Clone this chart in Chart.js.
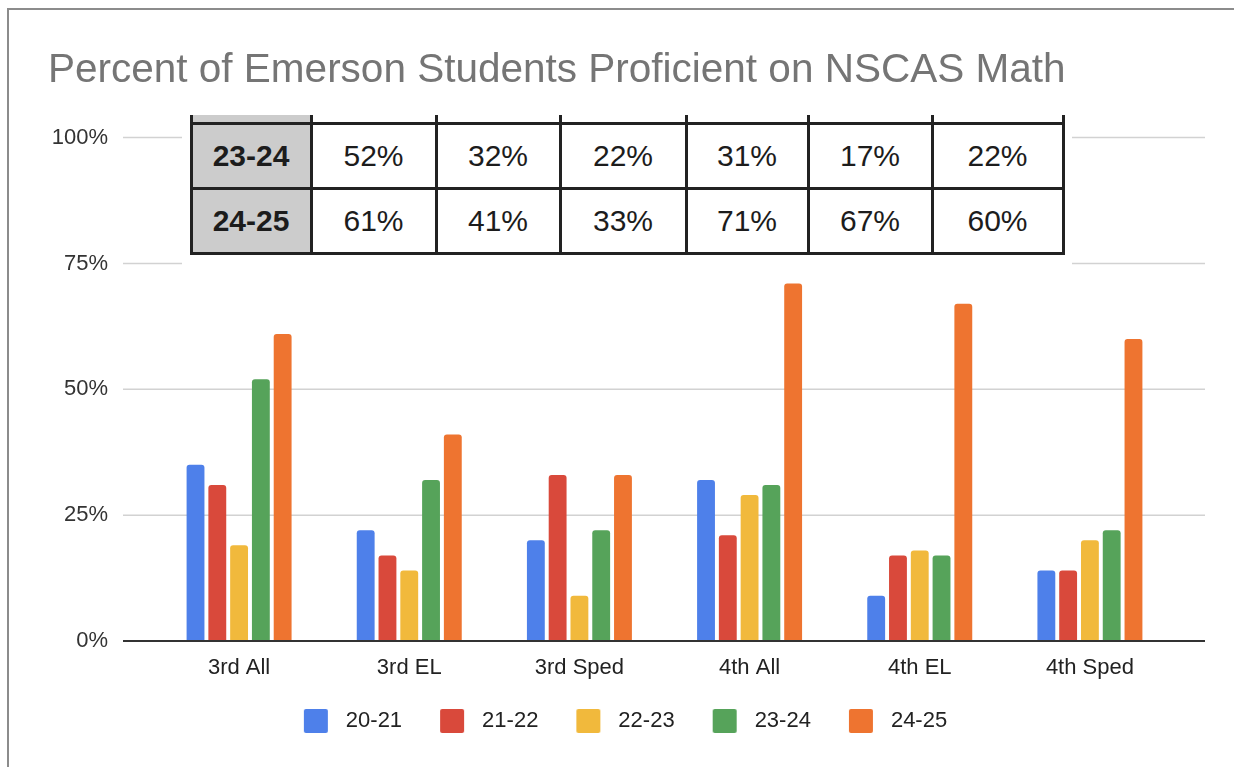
<!DOCTYPE html>
<html>
<head>
<meta charset="utf-8">
<script src="https://cdn.jsdelivr.net/npm/chart.js@4.4.1/dist/chart.umd.min.js"></script>
<style>
  html, body { margin: 0; padding: 0; background: #fff; overflow: hidden; }
  #wrap { position: relative; width: 1234px; height: 767px; }
  #chart { position: absolute; left: 0; top: 0; }
  #frame { position: absolute; left: 7px; top: 8px; width: 1300px; height: 800px;
           border-left: 2px solid #8c8c8c; border-top: 2px solid #8c8c8c; }
  #tbl { position: absolute; left: 182px; top: 110px; width: 890px; height: 156px; background: #fff; }
  .cell { position: absolute; display: flex; align-items: center; justify-content: center;
          font: 30px 'Liberation Sans', Arial, sans-serif; color: #1c1c1c; }
  .hd { background: #cccccc; font-weight: bold; }
  .ln { position: absolute; background: #222; }
</style>
</head>
<body>
<div id="wrap">
  <div id="frame"></div>
  <canvas id="chart" width="1234" height="767"></canvas>
  <div id="tbl"></div>
</div>
<script>
// data
const categories = ['3rd All', '3rd EL', '3rd Sped', '4th All', '4th EL', '4th Sped'];
const years = ['20-21', '21-22', '22-23', '23-24', '24-25'];
const y2021 = [35, 22, 20, 32, 9, 14];
const y2122 = [31, 17, 33, 21, 17, 14];
const y2223 = [19, 14, 9, 29, 18, 20];
const y2324 = [52, 32, 22, 31, 17, 22];
const y2425 = [61, 41, 33, 71, 67, 60];
const series = [y2021, y2122, y2223, y2324, y2425];
const colors = ['#4e80ea', '#d9493b', '#f1b93c', '#56a35a', '#ee7430'];

const font = "'Liberation Sans', Arial, sans-serif";

// legend swatches: square sits right of some blank room so items spread out like Sheets
function swatch(color) {
  const c = document.createElement('canvas');
  c.width = 59; c.height = 24;
  const g = c.getContext('2d');
  g.fillStyle = color;
  g.beginPath();
  g.roundRect(28, 0, 24, 24, 2);
  g.fill();
  return c;
}
const swatches = colors.map(swatch);

// horizontal gridlines + baseline run a bit past the bar area, like Sheets does
const sheetGrid = {
  id: 'sheetGrid',
  beforeDatasetsDraw(chart) {
    const { ctx, chartArea, scales: { y } } = chart;
    ctx.save();
    ctx.strokeStyle = '#d2d2d2';
    ctx.lineWidth = 1.5;
    y.ticks.forEach(t => {
      if (t.value === 0) return;
      const py = y.getPixelForValue(t.value);
      ctx.beginPath();
      ctx.moveTo(chartArea.left - 31, py);
      ctx.lineTo(chartArea.right + 30, py);
      ctx.stroke();
    });
    ctx.restore();
  },
  afterDatasetsDraw(chart) {
    const { ctx, chartArea, scales: { y } } = chart;
    const py = y.getPixelForValue(0);
    ctx.save();
    ctx.strokeStyle = '#333';
    ctx.lineWidth = 2;
    ctx.beginPath();
    ctx.moveTo(chartArea.left - 31, py);
    ctx.lineTo(chartArea.right + 30, py);
    ctx.stroke();
    ctx.restore();
  }
};

const ctx = document.getElementById('chart').getContext('2d');
new Chart(ctx, {
  type: 'bar',
  data: {
    labels: categories,
    datasets: years.map((yr, i) => ({
      label: yr,
      data: series[i],
      backgroundColor: colors[i],
      borderRadius: 3,
      categoryPercentage: 0.64,
      barPercentage: 0.82
    }))
  },
  options: {
    responsive: false,
    animation: false,
    layout: { padding: { left: 48, right: 59, top: 47, bottom: 25 } },
    plugins: {
      title: {
        display: true,
        text: 'Percent of Emerson Students Proficient on NSCAS Math',
        align: 'start',
        color: '#757575',
        font: { size: 40.5, family: font, weight: 'normal' },
        padding: { top: 0, bottom: 42 }
      },
      legend: {
        position: 'bottom',
        labels: {
          usePointStyle: true, pointStyleWidth: 59, boxHeight: 22,
          padding: 10,
          color: '#222', font: { size: 22, family: font },
          generateLabels: chart => Chart.defaults.plugins.legend.labels.generateLabels(chart)
            .map((it, i) => ({ ...it, pointStyle: swatches[i] }))
        }
      },
      tooltip: { enabled: false }
    },
    scales: {
      x: {
        grid: { display: false, drawTicks: false },
        border: { display: false },
        ticks: { color: '#222', font: { size: 22, family: font }, padding: 14 },
        afterFit: s => { s.height = 59; }
      },
      y: {
        min: 0, max: 100,
        grid: { display: false, drawTicks: false },
        border: { display: false },
        ticks: { stepSize: 25, color: '#333', font: { size: 22, family: font }, padding: 46,
                 callback: v => v + '%' },
        afterFit: s => { s.width = 106; }
      }
    }
  },
  plugins: [sheetGrid]
});

// pasted table of the last two years, over the top of the plot
const tblRows = [['23-24', y2324], ['24-25', y2425]];
const colX = [191, 311, 436, 560, 686, 808, 932, 1063];
const rowY = [123, 188, 253];
const tbl = document.getElementById('tbl');
const ox = 182, oy = 110, top0 = 115, lw = 3;
function add(cls, l, t, w, h, txt) {
  const d = document.createElement('div');
  d.className = cls;
  d.style.left = (l - ox) + 'px'; d.style.top = (t - oy) + 'px';
  d.style.width = w + 'px'; d.style.height = h + 'px';
  if (txt !== undefined) d.textContent = txt;
  tbl.appendChild(d);
}
// sliver of the header row cut off above
add('cell hd', colX[0], top0, colX[1] - colX[0], rowY[0] - top0);
tblRows.forEach((r, ri) => {
  const t = rowY[ri], h = rowY[ri + 1] - rowY[ri];
  add('cell hd', colX[0], t, colX[1] - colX[0], h, r[0]);
  r[1].forEach((v, ci) => {
    add('cell', colX[ci + 1], t, colX[ci + 2] - colX[ci + 1], h, v + '%');
  });
});
colX.forEach(x => add('ln', x - lw / 2, top0, lw, rowY[2] - top0 + lw / 2));
rowY.forEach(y => add('ln', colX[0] - lw / 2, y - lw / 2, colX[7] - colX[0] + lw, lw));
</script>
</body>
</html>
